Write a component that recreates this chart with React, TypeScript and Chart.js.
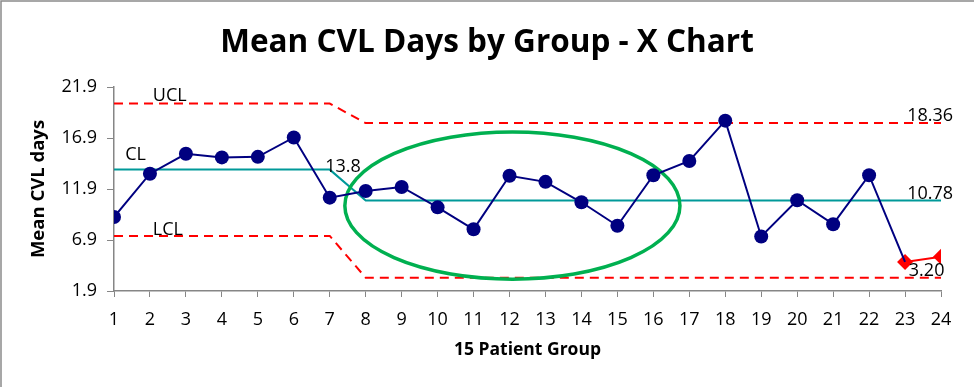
import React, { useEffect, useRef } from "react";
import { Chart, registerables } from "chart.js";

Chart.register(...registerables);

// ---- data ----
const groups = [1, 2, 3, 4, 5, 6, 7, 8, 9, 10, 11, 12, 13, 14, 15, 16, 17, 18, 19, 20, 21, 22, 23, 24];
const meanCvlDays = [9.15, 13.4, 15.35, 15.0, 15.05, 16.95, 11.05, 11.7, 12.1, 10.1, 7.95, 13.2, 12.6, 10.6, 8.3, 13.25, 14.65, 18.6, 7.25, 10.8, 8.45, 13.25, 4.75, 5.25];
const flaggedFromIndex = 22; // groups 23 and 24 shown as red diamonds
const yTicks = [1.9, 6.9, 11.9, 16.9, 21.9];
const limitX = [1, 7, 8, 24];
const uclValues = [20.28, 20.28, 18.36, 18.36];
const clValues = [13.8, 13.8, 10.78, 10.78];
const lclValues = [7.3, 7.3, 3.2, 3.2];
const titleText = "Mean CVL Days by Group - X Chart";
const yTitle = "Mean CVL days";
const xTitle = "15 Patient Group";

const FONT = "'Open Sans', 'DejaVu Sans', sans-serif";

export default function App() {
  const ref = useRef<HTMLCanvasElement | null>(null);

  useEffect(() => {
    document.body.style.margin = "0";
    const canvas = ref.current;
    if (!canvas) return;

    const mainPts = groups.slice(0, flaggedFromIndex + 1).map((g, i) => ({ x: g, y: meanCvlDays[i] }));
    const flagPts = groups.slice(flaggedFromIndex).map((g, i) => ({ x: g, y: meanCvlDays[flaggedFromIndex + i] }));
    const toPts = (vals: number[]) => limitX.map((x, i) => ({ x, y: vals[i] }));

    // text annotations: [text, dataset index, x (data), pixel dy above line]
    const lineLabels: [string, number, number, number][] = [
      ["UCL", 4, 2.55, 8],
      ["CL", 2, 1.6, 15],
      ["LCL", 3, 2.5, 6],
      ["13.8", 2, 7.37, 14],
      ["18.36", 4, 23.7, 7],
      ["10.78", 2, 23.7, 7],
      ["3.20", 3, 23.6, 7],
    ];
    const limitAt = (ds: number) => (ds === 4 ? uclValues : ds === 2 ? clValues : lclValues);
    const valueAt = (vals: number[], x: number) => {
      for (let i = 0; i < limitX.length - 1; i++) {
        if (x >= limitX[i] && x <= limitX[i + 1]) {
          const t = (x - limitX[i]) / (limitX[i + 1] - limitX[i]);
          return vals[i] + t * (vals[i + 1] - vals[i]);
        }
      }
      return vals[vals.length - 1];
    };

    const decor = {
      id: "decor",
      afterDatasetDraw(chart: any, args: any) {
        if (args.index !== 2) return;
        const { ctx, scales } = chart;
        const cx = scales.x.getPixelForValue(12.08);
        const cy = scales.y.getPixelForValue(10.27);
        const rx = Math.abs(scales.x.getPixelForValue(12.08 + 4.66) - cx);
        const ry = Math.abs(scales.y.getPixelForValue(10.27 + 7.21) - cy);
        ctx.save();
        ctx.strokeStyle = "#00B050";
        ctx.lineWidth = 3.5;
        ctx.beginPath();
        ctx.ellipse(cx, cy, rx, ry, 0, 0, Math.PI * 2);
        ctx.stroke();
        ctx.restore();
      },
      afterDraw(chart: any) {
        const { ctx, scales, width } = chart;
        ctx.save();
        // frame
        ctx.strokeStyle = "#8a8a8a";
        ctx.lineWidth = 1.5;
        ctx.beginPath();
        ctx.moveTo(1, chart.height + 2);
        ctx.lineTo(1, 1);
        ctx.lineTo(width + 2, 1);
        ctx.stroke();
        // title
        ctx.fillStyle = "#000";
        ctx.textAlign = "center";
        ctx.textBaseline = "middle";
        ctx.font = `bold 31.5px ${FONT}`;
        ctx.fillText(titleText, width / 2, 43);
        // line labels
        ctx.font = `18px ${FONT}`;
        ctx.textBaseline = "middle";
        for (const [text, ds, x, dy] of lineLabels) {
          const px = scales.x.getPixelForValue(x);
          const py = scales.y.getPixelForValue(valueAt(limitAt(ds), x)) - dy;
          ctx.fillText(text, px, py);
        }
        ctx.restore();
      },
    };

    const chart = new Chart(canvas, {
      type: "line",
      data: {
        datasets: [
          {
            data: mainPts,
            borderColor: "#000080",
            backgroundColor: "#000080",
            borderWidth: 2,
            pointRadius: mainPts.map((_, i) => (i < flaggedFromIndex ? 7 : 0)),
            pointBorderWidth: 0,
            pointStyle: "circle",
          },
          {
            data: flagPts,
            borderColor: "#FF0000",
            backgroundColor: "#FF0000",
            borderWidth: 2,
            pointRadius: 8,
            pointBorderWidth: 0,
            pointStyle: "rectRot",
          },
          {
            data: toPts(clValues),
            borderColor: "#009999",
            borderWidth: 2,
            pointRadius: 0,
          },
          {
            data: toPts(lclValues),
            borderColor: "#FF0000",
            borderWidth: 2,
            borderDash: [9, 6],
            pointRadius: 0,
          },
          {
            data: toPts(uclValues),
            borderColor: "#FF0000",
            borderWidth: 2,
            borderDash: [9, 6],
            pointRadius: 0,
          },
        ],
      },
      options: {
        animation: false,
        responsive: true,
        maintainAspectRatio: false,
        layout: { padding: { top: 87, right: 33, left: 0, bottom: 0 } },
        plugins: { legend: { display: false }, tooltip: { enabled: false }, title: { display: false } },
        scales: {
          x: {
            type: "linear",
            min: 1,
            max: 24,
            afterBuildTicks: (s: any) => {
              s.ticks = groups.map((v) => ({ value: v }));
            },
            afterFit: (s: any) => {
              s.height = 96;
            },
            ticks: {
              color: "#000",
              font: { family: FONT, size: 18 },
              padding: 12,
              maxRotation: 0,
              autoSkip: false,
              callback: (v: any) => String(v),
            },
            grid: { drawOnChartArea: false, drawTicks: true, tickLength: 6, color: "#868686" },
            border: { color: "#868686", width: 1.5 },
            title: {
              display: true,
              text: xTitle,
              color: "#000",
              font: { family: FONT, size: 17.5, weight: "bold" },
              padding: { top: 0, bottom: 26 },
            },
          },
          y: {
            type: "linear",
            min: 1.9,
            max: 21.9,
            afterBuildTicks: (s: any) => {
              s.ticks = yTicks.map((v) => ({ value: v }));
            },
            afterFit: (s: any) => {
              s.width = 114;
            },
            ticks: {
              color: "#000",
              font: { family: FONT, size: 18 },
              padding: 10,
              callback: (v: any) => Number(v).toFixed(1),
            },
            grid: { drawOnChartArea: false, drawTicks: true, tickLength: 7, color: "#868686" },
            border: { color: "#868686", width: 1.5 },
            title: {
              display: true,
              text: yTitle,
              color: "#000",
              font: { family: FONT, size: 18.5, weight: "bold" },
              padding: { top: 28, bottom: 0 },
            },
          },
        },
      },
      plugins: [decor],
    });
    return () => chart.destroy();
  }, []);

  return (
    <div style={{ width: 974, height: 387, position: "relative" }}>
      <canvas ref={ref} />
    </div>
  );
}
